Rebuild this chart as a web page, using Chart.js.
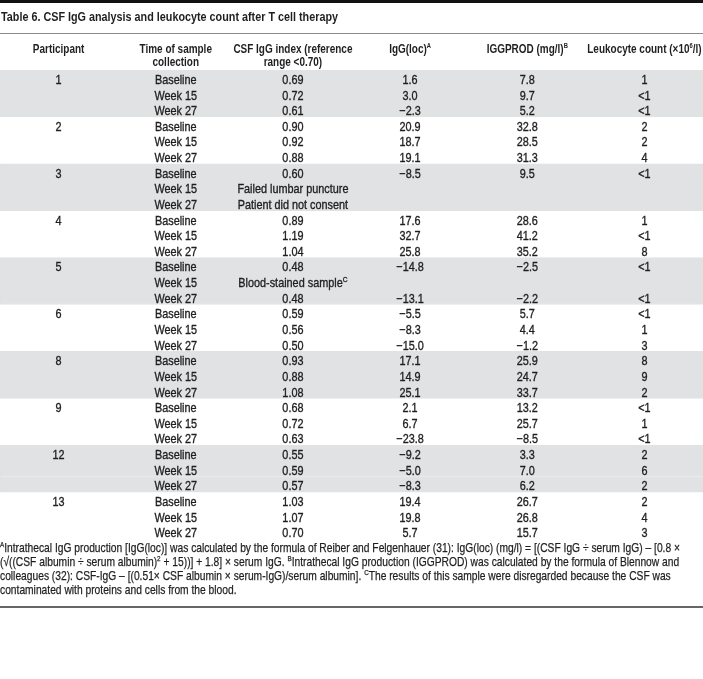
<!DOCTYPE html>
<html><head><meta charset="utf-8">
<script src="https://cdn.jsdelivr.net/npm/chart.js@4.4.1/dist/chart.umd.min.js"></script>
<style>
html,body{margin:0;padding:0;background:#fff;}
#wrap{position:relative;width:703px;height:679px;overflow:hidden;}
#topbar{position:absolute;left:0;top:0;width:703px;height:3px;background:#111;}
#title{position:absolute;left:1px;top:9px;font:bold 13px "Liberation Sans",sans-serif;color:#1f1f1f;white-space:nowrap;transform-origin:0 0;}
#rule1{position:absolute;left:0;top:33px;width:703px;height:1px;background:#8a8a8a;}
#notes{position:absolute;left:0;top:541px;font:13px/14px "Liberation Sans",sans-serif;color:#1f1f1f;white-space:nowrap;transform-origin:0 0;-webkit-text-stroke:0.25px #1f1f1f;}
#notes div{display:block;width:max-content;}
#notes sup{font-size:8px;line-height:0;vertical-align:5px;}
#rule2{position:absolute;left:0;top:606px;width:703px;height:2px;background:#666;}
canvas{position:absolute;left:0;top:0;}
</style></head>
<body>
<div id="wrap">
<canvas id="c" width="703" height="679"></canvas>
<div id="topbar"></div>
<div id="title">Table 6. CSF IgG analysis and leukocyte count after T cell therapy</div>
<div id="rule1"></div>
<div id="notes"><div id="n1"><sup>A</sup>Intrathecal IgG production [IgG(loc)] was calculated by the formula of Reiber and Felgenhauer (31): IgG(loc) (mg/l) = [(CSF IgG ÷ serum IgG) – [0.8 ×</div><div>(√((CSF albumin ÷ serum albumin)<sup>2</sup> + 15))] + 1.8] × serum IgG. <sup>B</sup>Intrathecal IgG production (IGGPROD) was calculated by the formula of Blennow and</div><div>colleagues (32): CSF-IgG – [(0.51× CSF albumin × serum-IgG)/serum albumin]. <sup>C</sup>The results of this sample were disregarded because the CSF was</div><div>contaminated with proteins and cells from the blood.</div></div>
<div id="rule2"></div>
</div>
<script>
const participants = ['1','2','3','4','5','6','8','9','12','13'];
const timepoints = ['Baseline','Week 15','Week 27'];
const headers = [['Participant'],['Time of sample','collection'],['CSF IgG index (reference','range <0.70)'],['IgG(loc)^{A}'],['IGGPROD (mg/l)^{B}'],['Leukocyte count (×10^{6}/l)']];
const csfIndex = [0.69,0.72,0.61, 0.90,0.92,0.88, 0.60,null,null, 0.89,1.19,1.04, 0.48,null,0.48, 0.59,0.56,0.50, 0.93,0.88,1.08, 0.68,0.72,0.63, 0.55,0.59,0.57, 1.03,1.07,0.70];
const csfNotes = {7:'Failed lumbar puncture', 8:'Patient did not consent', 13:'Blood-stained sample^{C}'};
const iggLoc = [1.6,3.0,-2.3, 20.9,18.7,19.1, -8.5,null,null, 17.6,32.7,25.8, -14.8,null,-13.1, -5.5,-8.3,-15.0, 17.1,14.9,25.1, 2.1,6.7,-23.8, -9.2,-5.0,-8.3, 19.4,19.8,5.7];
const iggProd = [7.8,9.7,5.2, 32.8,28.5,31.3, 9.5,null,null, 28.6,41.2,35.2, -2.5,null,-2.2, 5.7,4.4,-1.2, 25.9,24.7,33.7, 13.2,25.7,-8.5, 3.3,7.0,6.2, 26.7,26.8,15.7];
const leukocytes = ['1','<1','<1', '2','2','4', '<1','','', '1','<1','8', '<1','','<1', '<1','1','3', '8','9','2', '<1','1','<1', '2','6','2', '2','4','3'];

const rows = [];
participants.forEach((p,g)=>timepoints.forEach((t,k)=>rows.push({g,k})));
const rowLabels = rows.map((r,i)=>'r'+i);
const fmt = (v,d)=> v===null ? '' : (v<0 ? '\u2212'+Math.abs(v).toFixed(d) : v.toFixed(d));

function cellText(i,col){
  const r = rows[i];
  switch(col){
    case 0: return r.k===0 ? participants[r.g] : '';
    case 1: return timepoints[r.k];
    case 2: return csfNotes[i] !== undefined ? csfNotes[i] : fmt(csfIndex[i],2);
    case 3: return fmt(iggLoc[i],1);
    case 4: return fmt(iggProd[i],1);
    case 5: return leukocytes[i];
  }
}

const FAM = '"Liberation Sans", sans-serif';
const TEXT = '#1f1f1f';
const mctx = document.createElement('canvas').getContext('2d');
mctx.font = '13px ' + FAM;
const sxBody = 111 / mctx.measureText('Failed lumbar puncture').width;
mctx.font = 'bold 13px ' + FAM;
const sxBold = 337 / mctx.measureText(document.getElementById('title').textContent).width;
document.getElementById('title').style.transform = 'scaleX(' + sxBold + ')';
const n1 = document.getElementById('n1');
document.getElementById('notes').style.transform = 'scaleX(' + (680 / n1.getBoundingClientRect().width) + ')';

function drawRich(ctx, str, cx, cy, bold, size, sx){
  const parts = [];
  const re = /\^\{([^}]*)\}/g; let last=0, m;
  while((m=re.exec(str))){ if(m.index>last) parts.push({t:str.slice(last,m.index),s:false}); parts.push({t:m[1],s:true}); last=re.lastIndex; }
  if(last<str.length) parts.push({t:str.slice(last),s:false});
  const f = (s)=> (bold?'bold ':'') + (s?Math.round(size*0.62):size) + 'px ' + FAM;
  let w=0; parts.forEach(p=>{ctx.font=f(p.s); p.w=ctx.measureText(p.t).width; w+=p.w;});
  ctx.save();
  ctx.translate(cx, cy); ctx.scale(sx, 1);
  let x = -w/2;
  ctx.textAlign='left'; ctx.textBaseline='middle';
  ctx.fillStyle = TEXT; ctx.strokeStyle = TEXT; ctx.lineWidth = 0.35;
  parts.forEach(p=>{
    ctx.font=f(p.s);
    const yy = p.s ? -4 : 0;
    ctx.fillText(p.t, x, yy);
    if(!bold) ctx.strokeText(p.t, x, yy);
    x+=p.w;
  });
  ctx.restore();
}

const tablePlugin = {
  id:'tableText',
  afterDatasetsDraw(chart){
    const {ctx, scales:{x,y}} = chart;
    const top = chart.chartArea.top;
    headers.forEach((lines,c)=>{
      const cx = x.getPixelForValue(c+0.5);
      lines.forEach((ln,j)=> drawRich(ctx, ln, cx, top-20+j*13, true, 12, sxBold));
    });
    rows.forEach((r,i)=>{
      const cy = y.getPixelForValue(i)+2.5;
      for(let c=0;c<6;c++){
        const t = cellText(i,c);
        if(t) drawRich(ctx, t, x.getPixelForValue(c+0.5), cy, false, 13, sxBody);
      }
    });
  }
};

const bandColor = '#e1e2e4';
new Chart(document.getElementById('c'), {
  type:'bar',
  data:{
    labels: rowLabels,
    datasets:[{
      data: rows.map(r=> r.g%2===0 ? [0,6] : null),
      backgroundColor: bandColor,
      borderColor: bandColor,
      borderWidth: 1,
      borderSkipped: false,
      barPercentage: 1,
      categoryPercentage: 1
    }]
  },
  options:{
    indexAxis:'y',
    responsive:false,
    animation:false,
    devicePixelRatio:1,
    layout:{padding:{top:70,bottom:140,left:0,right:0}},
    plugins:{legend:{display:false}, tooltip:{enabled:false}, title:{display:false}},
    scales:{
      x:{type:'linear', min:0, max:6, display:false},
      y:{type:'category', display:false, offset:true}
    }
  },
  plugins:[tablePlugin]
});
</script>
</body></html>
